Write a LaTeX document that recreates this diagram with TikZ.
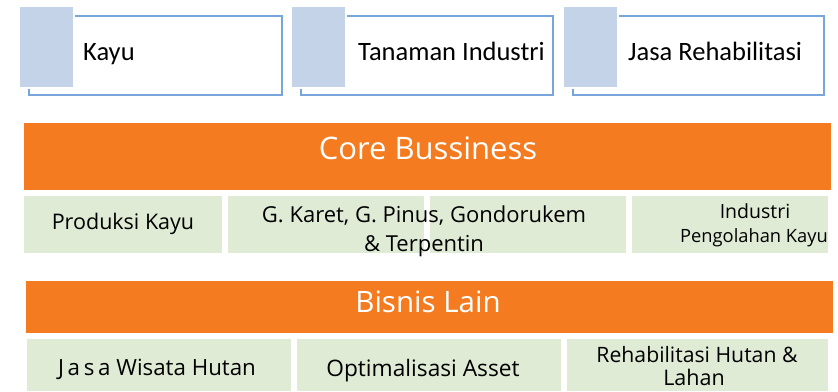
\documentclass[tikz,border=0pt]{standalone}
\usepackage{fontspec}
\setmainfont{Open Sans}
\newfontfamily\calib{Carlito}
\definecolor{orng}{HTML}{F47B20}
\definecolor{grn}{HTML}{DFEBD5}
\definecolor{bluefill}{HTML}{C5D3E8}
\definecolor{blueline}{HTML}{79A6DA}
\newcommand{\fs}[1]{\fontsize{#1}{#1}\selectfont}
\begin{document}
\begin{tikzpicture}[x=1pt,y=-1pt,
  box/.style={inner sep=0pt, outer sep=0pt, anchor=north west},
  bluerect/.style={box, fill=bluefill, minimum width=53pt, minimum height=80pt},
  outl/.style={box, minimum width=253pt, minimum height=79pt},
  oline/.style={draw=blueline, line width=1.3pt},
  bar/.style={box, fill=orng},
  gbox/.style={box, fill=grn},
  toptxt/.style={anchor=base west, inner sep=0pt, font=\calib\fs{26.5}},
  bartxt/.style={text=white, inner sep=0pt},
  gtxt/.style={inner sep=0pt}]
\useasboundingbox (0,0) rectangle (838,391);
% top boxes
\foreach \i/\bx/\ox/\ow in {1/20/29/253, 2/292/301/252, 3/564/573/251} {
  \node[outl, minimum width=\ow pt] (o\i) at (\ox,16) {};
  \node[bluerect] (b\i) at (\bx,7) {};
  \draw[oline] ([xshift=2pt]b\i.north east |- o\i.north) -- (o\i.north east) -- (o\i.south east) -- (o\i.south west) -- ([yshift=-2pt]o\i.west |- b\i.south);
}
\node[toptxt] (t1) at ([xshift=10pt]b1.east |- 0,60) {Kayu};
\node[toptxt] (t2) at ([xshift=13pt]b2.east |- 0,60) {Tanaman Industri};
\node[toptxt] (t3) at ([xshift=11pt]b3.east |- 0,60) {Jasa Rehabilitasi};
% core business
\node[bar, minimum width=807pt, minimum height=67pt] (core) at (24,123) {};
\node[bartxt, font=\fs{31}] (coret) at (428,148) {Core Bussiness};
\node[gbox, minimum width=198pt, minimum height=57pt] (g1) at (24,196) {};
\node[gbox, minimum width=196pt, minimum height=57pt] (g2) at (228,196) {};
\node[gbox, minimum width=196pt, minimum height=57pt] (g3) at (430,196) {};
\node[gbox, minimum width=196pt, minimum height=57pt] (g4) at (632,196) {};
\node[gtxt, font=\fs{21.5}] (p1) at (123,224) {Produksi Kayu};
\node[gtxt, font=\fs{22}] (p2a) at (424,216) {G. Karet, G. Pinus, Gondorukem};
\node[gtxt, font=\fs{22}] (p2b) at (424,246) {\& Terpentin};
\node[gtxt, font=\fs{19.5}] (p3a) at (755,211) {Industri};
\node[gtxt, font=\fs{18.3}] (p3b) at (754,238) {Pengolahan Kayu};
% bisnis lain
\node[bar, minimum width=807pt, minimum height=52pt] (lain) at (26,281) {};
\node[bartxt, font=\fs{29.5}] (laint) at (428,302) {Bisnis Lain};
\node[gbox, minimum width=264pt, minimum height=52pt] (h1) at (27,339) {};
\node[gbox, minimum width=264pt, minimum height=52pt] (h2) at (297,339) {};
\node[gbox, minimum width=261pt, minimum height=52pt] (h3) at (567,339) {};
\node[gtxt, font=\fs{22.3}] (q1) at (157,369) {J\,a\,s\,a Wisata Hutan};
\node[gtxt, font=\fs{22.7}] (q2) at (423,371) {Optimalisasi Asset};
\node[gtxt, font=\fs{21.2}] (q3a) at (697,355) {Rehabilitasi Hutan \&};
\node[gtxt, font=\fs{21.5}] (q3b) at (694,377) {Lahan};
\end{tikzpicture}
\end{document}
